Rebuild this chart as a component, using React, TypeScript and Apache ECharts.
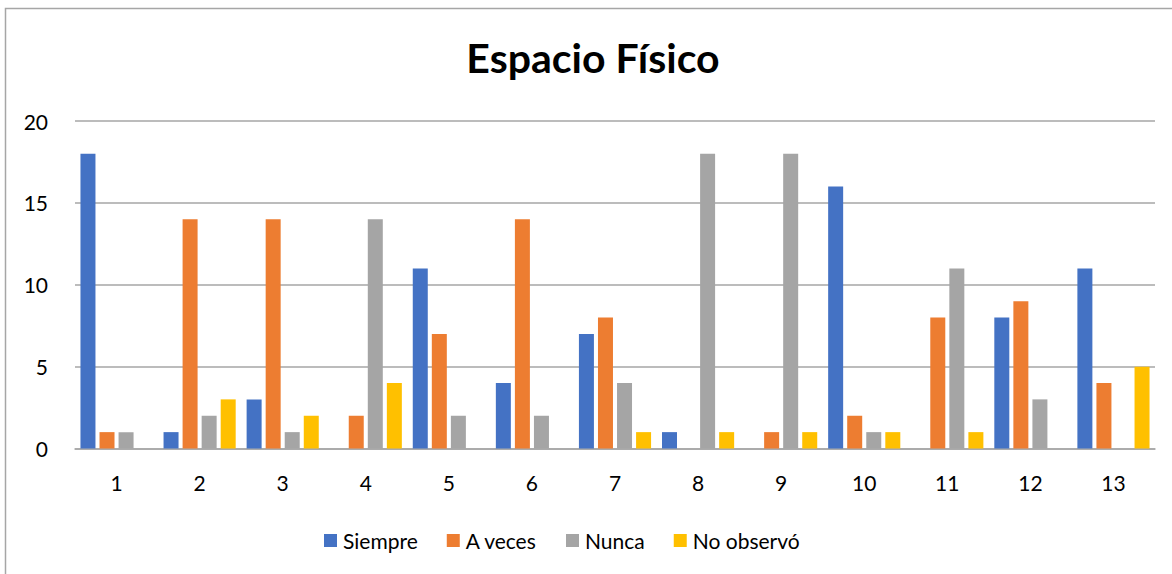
import React, { useEffect, useRef } from "react";
import * as echarts from "echarts";

const categories = ["1", "2", "3", "4", "5", "6", "7", "8", "9", "10", "11", "12", "13"];
const siempre = [18, 1, 3, null, 11, 4, 7, 1, null, 16, null, 8, 11];
const aVeces = [1, 14, 14, 2, 7, 14, 8, null, 1, 2, 8, 9, 4];
const nunca = [1, 2, 1, 14, 2, 2, 4, 18, 18, 1, 11, 3, null];
const noObservo = [null, 3, 2, 4, null, null, 1, 1, 1, 1, 1, null, 5];
const seriesNames = ["Siempre", "A veces", "Nunca", "No observó"];
const colors = ["#4472C4", "#ED7D31", "#A5A5A5", "#FFC000"];

const FONT = "Lato, 'Open Sans', sans-serif";

export default function App() {
  const ref = useRef<HTMLDivElement>(null);
  useEffect(() => {
    if (!ref.current) return;
    const chart = echarts.init(ref.current, undefined, { renderer: "svg" });
    const data = [siempre, aVeces, nunca, noObservo];
    chart.setOption({
      animation: false,
      color: colors,
      textStyle: { fontFamily: FONT },
      title: {
        text: "Espacio Físico",
        left: 588,
        textAlign: "center",
        top: 32,
        textStyle: { fontSize: 41, fontWeight: "bold", color: "#000", fontFamily: FONT },
      },
      legend: {
        left: 324,
        top: 530,
        padding: 0,
        itemWidth: 13,
        itemHeight: 13,
        itemGap: 29,
        icon: "rect",
        textStyle: { fontSize: 21, color: "#000", fontFamily: FONT, padding: [0, 0, 0, 1] },
        data: seriesNames,
      },
      graphic: [
        {
          type: "rect",
          shape: { x: 5.5, y: 8.5, width: 1200, height: 600 },
          style: { fill: "none", stroke: "#A6A6A6", lineWidth: 1.5 },
          silent: true,
        },
      ],
      grid: { left: 75, right: 17, top: 121, bottom: 125.5, containLabel: false },
      xAxis: {
        type: "category",
        data: categories,
        axisTick: { show: false },
        axisLine: { lineStyle: { color: "#A6A6A6", width: 1.5 } },
        axisLabel: { fontSize: 21, color: "#000", margin: 23, fontFamily: FONT },
      },
      yAxis: {
        type: "value",
        min: 0,
        max: 20,
        interval: 5,
        axisLine: { show: false },
        axisTick: { show: false },
        splitLine: { lineStyle: { color: "#A6A6A6", width: 1.5 } },
        axisLabel: { fontSize: 21, color: "#000", margin: 27, fontFamily: FONT },
      },
      series: seriesNames.map((name, i) => ({
        name,
        type: "bar",
        data: data[i],
        barWidth: 15,
        barGap: "27%",
        itemStyle: { color: colors[i] },
      })),
    });
    return () => chart.dispose();
  }, []);
  return (
    <div
      ref={ref}
      style={{ position: "absolute", left: 0, top: 0, width: 1172, height: 574, background: "#fff" }}
    />
  );
}
